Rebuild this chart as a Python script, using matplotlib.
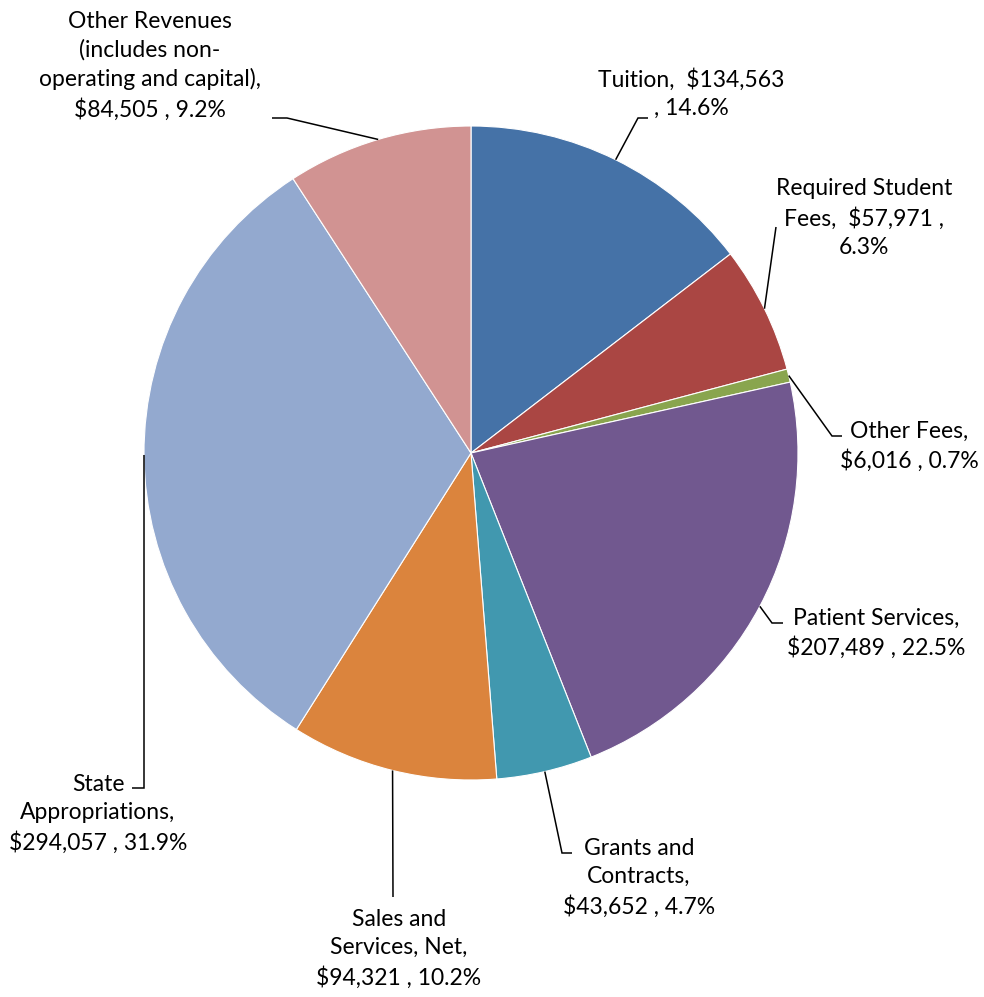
import numpy as np
import matplotlib
matplotlib.use("Agg")
import matplotlib.pyplot as plt

# ---- data ----
categories = ["Tuition", "Required Student Fees", "Other Fees", "Patient Services",
              "Grants and Contracts", "Sales and Services, Net",
              "State Appropriations",
              "Other Revenues (includes non-operating and capital)"]
values = [134563, 57971, 6016, 207489, 43652, 94321, 294057, 84505]
labels = [
    "Tuition,  $134,563\n, 14.6%",
    "Required Student\nFees,  $57,971 ,\n6.3%",
    "Other Fees,\n$6,016 , 0.7%",
    "Patient Services,\n$207,489 , 22.5%",
    "Grants and\nContracts,\n$43,652 , 4.7%",
    "Sales and\nServices, Net,\n$94,321 , 10.2%",
    "State\nAppropriations,\n$294,057 , 31.9%",
    "Other Revenues\n(includes non-\noperating and capital),\n$84,505 , 9.2%",
]
colors = ["#4572A7", "#AA4643", "#89A54E", "#71588F",
          "#4198AF", "#DB843D", "#93A9CF", "#D19392"]

# ---- layout (pixel coordinates, y downward) ----
W, H = 984, 997
cx, cy, R = 471, 453, 327
# label block centre and leader elbow points (after the wedge point)
label_pos = [(691, 94), (864, 218), (909, 446), (876, 633),
             (639, 878), (399, 949), (98, 814), (150, 66)]
leader_pts = [
    [(638, 118), (648, 118)],
    [(776, 227)],
    [(832, 436), (842, 436)],
    [(772, 623), (783, 623)],
    [(562, 853), (572, 853)],
    [(393, 897)],
    [(144, 788), (132, 788)],
    [(287, 118), (272, 118)],
]

def Y(py):
    return H - py

fig = plt.figure(figsize=(W / 100, H / 100), dpi=100)
ax = fig.add_axes([0, 0, 1, 1])
ax.set_xlim(0, W)
ax.set_ylim(0, H)
ax.axis("off")

wedges, _ = ax.pie(values, colors=colors, startangle=90, counterclock=False,
                   center=(cx, Y(cy)), radius=R,
                   wedgeprops=dict(linewidth=0.8, edgecolor="white"))
ax.set_xlim(0, W)
ax.set_ylim(0, H)
ax.set_aspect("equal")

total = sum(values)
cum = 0.0
for i, v in enumerate(values):
    mid = (cum + v / 2) / total
    cum += v
    ang = np.deg2rad(90 - 360 * mid)
    sx = cx + R * np.cos(ang)
    sy = cy - R * np.sin(ang)
    pts = [(sx, sy)] + leader_pts[i]
    ax.plot([p[0] for p in pts], [Y(p[1]) for p in pts], color="black",
            lw=1.1, solid_capstyle="butt", solid_joinstyle="miter")
    lx, ly = label_pos[i]
    ax.text(lx, Y(ly), labels[i], ha="center", va="center",
            multialignment="center", fontsize=16.5, family="Lato",
            linespacing=1.41, color="black")

fig.savefig("out.png", dpi=100)
